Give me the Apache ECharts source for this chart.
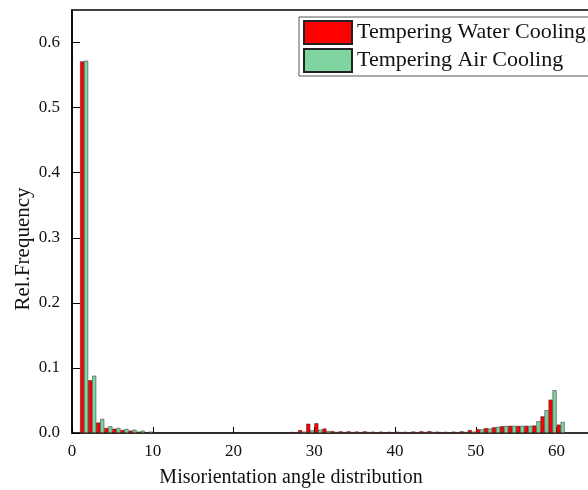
<!DOCTYPE html>
<html>
<head>
<meta charset="utf-8">
<script src="https://cdn.jsdelivr.net/npm/echarts@6/dist/echarts.min.js"></script>
<style>
html,body{margin:0;padding:0;background:#fff;}
#chart{width:588px;height:490px;}
</style>
</head>
<body>
<div id="chart"></div>
<script>
// Bin centres (degrees)
const binCenters = [1.5,2.5,3.5,4.5,5.5,6.5,7.5,8.5,9.5,10.5,11.5,12.5,13.5,14.5,15.5,16.5,17.5,18.5,19.5,20.5,
  21.5,22.5,23.5,24.5,25.5,26.5,27.5,28.5,29.5,30.5,31.5,32.5,33.5,34.5,35.5,36.5,37.5,38.5,39.5,40.5,
  41.5,42.5,43.5,44.5,45.5,46.5,47.5,48.5,49.5,50.5,51.5,52.5,53.5,54.5,55.5,56.5,57.5,58.5,59.5,60.5];
const waterCooling = [0.571,0.081,0.016,0.0077,0.0065,0.0046,0.0036,0.002,0.0012,0.001,
  0.001,0.001,0.0008,0.0008,0.0008,0.0008,0.0005,0.0005,0.0005,0.0008,
  0.0008,0.001,0.001,0.001,0.001,0.0012,0.0015,0.0045,0.0142,0.015,
  0.0068,0.0028,0.0025,0.0025,0.0022,0.0025,0.002,0.002,0.0018,0.002,
  0.0018,0.0022,0.0025,0.0028,0.002,0.0018,0.002,0.0025,0.0045,0.0058,
  0.0075,0.0087,0.0105,0.011,0.0108,0.011,0.0115,0.0255,0.0512,0.0128];
const airCooling = [0.572,0.088,0.0215,0.0103,0.0077,0.0062,0.005,0.0036,0.002,0.0012,
  0.001,0.001,0.0008,0.0008,0.0008,0.0008,0.0005,0.0004,0.0004,0.0006,
  0.0008,0.0008,0.0008,0.0008,0.001,0.001,0.0012,0.002,0.004,0.005,
  0.003,0.0015,0.0014,0.0013,0.0013,0.0014,0.0012,0.0012,0.0012,0.0013,
  0.0012,0.0013,0.0014,0.0015,0.0013,0.0012,0.0013,0.0015,0.002,0.0055,
  0.0068,0.0095,0.0108,0.011,0.011,0.011,0.018,0.035,0.0657,0.017];
const seriesNames = ['Tempering Water Cooling','Tempering Air Cooling'];
const xTitle = 'Misorientation angle distribution';
const yTitle = 'Rel.Frequency';
const xMin = 0, xMax = 65, xStep = 10;
const yMin = 0, yMax = 0.65, yStep = 0.1;

const serif = '"Liberation Serif","Times New Roman",serif';
const chart = echarts.init(document.getElementById('chart'), null, {renderer:'canvas'});
const toPairs = arr => arr.map((v,i)=>[binCenters[i], v]);

chart.setOption({
  animation:false,
  backgroundColor:'#fff',
  grid:{left:72, top:10, width:525, height:423, outerBoundsMode:'none', containLabel:false,
    show:true, borderColor:'#000', borderWidth:1.5, backgroundColor:'transparent'},
  legend:{
    orient:'vertical', left:299, top:17,
    borderColor:'#555', borderWidth:1, padding:[3,4,3,4], itemGap:3,
    itemWidth:48, itemHeight:23, icon:'rect',
    backgroundColor:'#fff',
    textStyle:{fontFamily:serif, fontSize:22, lineHeight:23, color:'#111'},
    data:seriesNames
  },
  xAxis:{
    type:'value', min:xMin, max:xMax, interval:xStep,
    axisLine:{show:true, onZero:false, lineStyle:{color:'#333', width:2}},
    axisTick:{show:true, inside:true, length:6, lineStyle:{color:'#000', width:1}},
    axisLabel:{show:true, margin:10, fontFamily:serif, fontSize:17, color:'#111', showMaxLabel:false},
    splitLine:{show:false}
  },
  yAxis:{
    type:'value', min:yMin, max:yMax, interval:yStep,
    axisLine:{show:true, lineStyle:{color:'#000', width:1.5}},
    axisTick:{show:true, inside:true, length:8, lineStyle:{color:'#000', width:1}},
    axisLabel:{show:true, margin:12, fontFamily:serif, fontSize:17, color:'#111', showMaxLabel:false,
      formatter:v=>v.toFixed(1)},
    splitLine:{show:false}
  },
  graphic:[
    {type:'text', x:291, y:478, style:{text:xTitle, fontFamily:serif, fontSize:20, fill:'#111', textAlign:'center', textVerticalAlign:'middle'}},
    {type:'text', x:23, y:249, rotation:Math.PI/2, style:{text:yTitle, fontFamily:serif, fontSize:21, fill:'#111', textAlign:'center', textVerticalAlign:'middle'}}
  ],
  series:[
    {name:seriesNames[0], type:'bar', data:toPairs(waterCooling), barWidth:4, barGap:'0%',
      itemStyle:{color:'#ff0000', borderColor:'#222', borderWidth:0.5}},
    {name:seriesNames[1], type:'bar', data:toPairs(airCooling), barWidth:4, barGap:'0%',
      itemStyle:{color:'#80d4a0', borderColor:'#222', borderWidth:0.5}}
  ]
});
</script>
</body>
</html>
